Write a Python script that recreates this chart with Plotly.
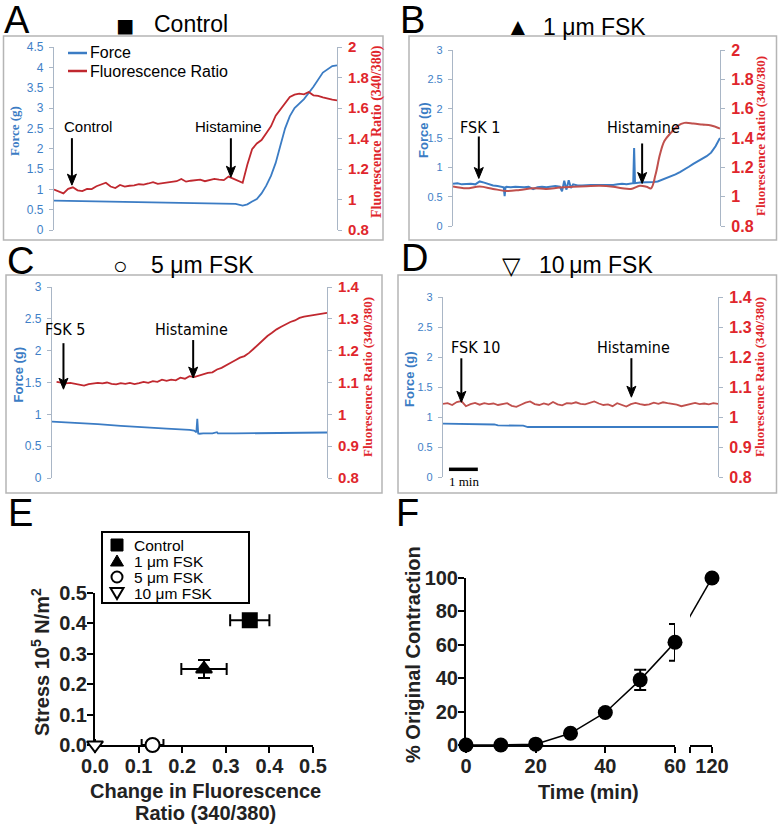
import plotly.graph_objects as go

W, H = 778, 827
def PX(x): return x / W
def PY(y): return 1 - y / H

SANS = "Liberation Sans, Arial, sans-serif"
SERIF = "Liberation Serif, Times New Roman, serif"
NARROW = "Liberation Sans Narrow, Arial Narrow, DejaVu Sans Condensed, sans-serif"

BLUE = "#3b7cc4"
BLUE_TXT = "#3f7fc7"
RED_A = "#c0282f"
RED_B = "#c0504d"
RED_TXT = "#e0262c"
AXGRAY = "#a9b6c6"

# ---------------- DATA ----------------
# Panel A (Control) time in s
a_force_t = [0, 60, 120, 180, 240, 300, 360, 385, 400, 410, 420, 430, 440, 450, 460,
             470, 480, 490, 500, 510, 530, 550, 570, 590, 600]
a_force = [0.72, 0.71, 0.70, 0.685, 0.67, 0.665, 0.655, 0.64, 0.60, 0.63, 0.70, 0.76,
           0.90, 1.09, 1.33, 1.65, 2.08, 2.50, 2.80, 3.00, 3.22, 3.52, 3.87, 4.03, 4.05]
a_fluor_t = list(range(0, 601, 10))
a_fluor = [1.065, 1.050, 1.040, 1.070, 1.080, 1.060, 1.055, 1.070, 1.068, 1.087,
           1.100, 1.110, 1.085, 1.075, 1.095, 1.085, 1.090, 1.092, 1.100, 1.098,
           1.105, 1.114, 1.103, 1.108, 1.110, 1.116, 1.120, 1.135, 1.117, 1.123,
           1.125, 1.130, 1.120, 1.128, 1.135, 1.130, 1.127, 1.150, 1.137, 1.125,
           1.110, 1.230, 1.330, 1.367, 1.390, 1.435, 1.480, 1.550, 1.590, 1.635,
           1.672, 1.688, 1.694, 1.690, 1.705, 1.683, 1.680, 1.670, 1.660, 1.655,
           1.650]
a_legend = ["Force", "Fluorescence Ratio"]

# Panel B (1 um FSK)
b_force_t = [0, 10, 20, 30, 40, 50, 60, 70, 80, 90, 100, 110, 114, 116, 118,
             120, 130, 140, 150, 160, 170, 180, 190, 200, 210, 220, 230, 240,
             245, 250, 255, 260, 265,
             270, 280, 290, 300, 310, 320, 330, 340, 350, 360, 370, 380, 390, 400,
             405, 407, 409,
             420, 430, 440, 450, 460, 470, 480, 490, 500, 510, 520, 530, 540, 550,
             560, 570, 580, 590, 600]
b_force = [0.72, 0.73, 0.71, 0.72, 0.72, 0.71, 0.76, 0.74, 0.71, 0.69, 0.68, 0.67,
           0.66, 0.51, 0.66,
           0.67, 0.66, 0.67, 0.66, 0.66, 0.67, 0.63, 0.66, 0.67, 0.66, 0.67, 0.68, 0.67,
           0.59, 0.77, 0.62, 0.78, 0.65,
           0.71, 0.69, 0.69, 0.70, 0.70, 0.70, 0.70, 0.69, 0.70, 0.70, 0.71, 0.72, 0.71, 0.72,
           0.73, 1.33, 0.73,
           0.74, 0.74, 0.74, 0.75, 0.76, 0.79, 0.81, 0.84, 0.88, 0.92, 0.96, 1.01, 1.06, 1.10,
           1.15, 1.19, 1.25, 1.36, 1.50]
b_fluor_t = [0, 30, 60, 90, 120, 150, 180, 210, 240, 270, 300, 330, 360, 380, 400,
             420, 435, 445, 455, 465, 475, 490, 505, 520, 540, 560, 580, 600]
b_fluor = [1.069, 1.057, 1.069, 1.053, 1.039, 1.046, 1.057, 1.053, 1.062, 1.067,
           1.071, 1.074, 1.067, 1.057, 1.053, 1.074, 1.067, 1.057, 1.149, 1.287,
           1.379, 1.437, 1.483, 1.503, 1.499, 1.492, 1.485, 1.464]

# Panel C (5 um FSK)
c_force_t = [0, 50, 100, 150, 200, 250, 300, 310, 315, 317, 319, 322, 330, 350, 360,
             362, 400, 450, 500, 550, 600]
c_force = [0.887, 0.87, 0.845, 0.82, 0.795, 0.775, 0.757, 0.745, 0.72, 0.93, 0.70,
           0.695, 0.70, 0.70, 0.72, 0.70, 0.70, 0.705, 0.71, 0.715, 0.715]
c_fluor_t = list(range(10, 601, 10))
c_fluor = [1.102, 1.099, 1.097, 1.099, 1.096, 1.094, 1.090, 1.095, 1.097, 1.099,
           1.097, 1.100, 1.096, 1.094, 1.098, 1.096, 1.099, 1.095, 1.098, 1.102,
           1.099, 1.104, 1.102, 1.109, 1.105, 1.109, 1.107, 1.115, 1.112, 1.120,
           1.117, 1.122, 1.125, 1.130, 1.132, 1.141, 1.146, 1.153, 1.162, 1.170,
           1.178, 1.183, 1.193, 1.206, 1.220, 1.233, 1.246, 1.256, 1.267, 1.275,
           1.283, 1.290, 1.295, 1.303, 1.307, 1.309, 1.312, 1.313, 1.317, 1.319]

# Panel D (10 um FSK)
d_force_t = [0, 76, 112, 120, 175, 185, 600]
d_force = [0.889, 0.885, 0.875, 0.86, 0.855, 0.833, 0.833]
d_fluor_t = list(range(0, 601, 10))
d_fluor = [1.044, 1.046, 1.040, 1.050, 1.053, 1.036, 1.043, 1.047, 1.041, 1.046,
           1.043, 1.045, 1.040, 1.044, 1.046, 1.037, 1.034, 1.041, 1.048, 1.052,
           1.043, 1.040, 1.045, 1.041, 1.050, 1.042, 1.039, 1.046, 1.045, 1.049,
           1.044, 1.042, 1.047, 1.052, 1.045, 1.040, 1.042, 1.036, 1.046, 1.041,
           1.035, 1.043, 1.047, 1.043, 1.040, 1.042, 1.048, 1.044, 1.049, 1.046,
           1.044, 1.041, 1.036, 1.039, 1.043, 1.047, 1.043, 1.045, 1.042, 1.046,
           1.044]

# Panel E
e_groups = ["Control", "1 \u03bcm FSK", "5 \u03bcm FSK", "10 \u03bcm FSK"]
e_ratio = [0.355, 0.25, 0.132, 0.0]
e_ratio_err = [0.045, 0.052, 0.025, 0.0]
e_stress = [0.41, 0.25, 0.0, 0.0]
e_stress_err = [0.02, 0.03, 0.0, 0.0]

# Panel F
f_time = [0, 10, 20, 30, 40, 50, 60]
f_pct = [0, 0, 0.5, 7, 19.5, 39, 61.5]
f_err = [0, 0, 0, 0, 0, 6, 11]
f_time_late = [60, 120]
f_pct_late = [61.5, 100]

# ---------------- FIGURE ----------------
fig = go.Figure()

# A
fig.add_trace(go.Scatter(x=a_force_t, y=a_force, xaxis="x", yaxis="y", mode="lines",
                         line=dict(color=BLUE, width=1.8), name=a_legend[0]))
fig.add_trace(go.Scatter(x=a_fluor_t, y=a_fluor, xaxis="x", yaxis="y2", mode="lines",
                         line=dict(color=RED_A, width=1.8), name=a_legend[1]))
# B
fig.add_trace(go.Scatter(x=b_fluor_t, y=b_fluor, xaxis="x2", yaxis="y4", mode="lines",
                         line=dict(color=RED_B, width=2, shape="spline")))
fig.add_trace(go.Scatter(x=b_force_t, y=b_force, xaxis="x2", yaxis="y3", mode="lines",
                         line=dict(color=BLUE, width=2)))
# C
fig.add_trace(go.Scatter(x=c_force_t, y=c_force, xaxis="x3", yaxis="y5", mode="lines",
                         line=dict(color=BLUE, width=1.8)))
fig.add_trace(go.Scatter(x=c_fluor_t, y=c_fluor, xaxis="x3", yaxis="y6", mode="lines",
                         line=dict(color=RED_A, width=1.8)))
# D
fig.add_trace(go.Scatter(x=d_force_t, y=d_force, xaxis="x4", yaxis="y7", mode="lines",
                         line=dict(color=BLUE, width=1.8)))
fig.add_trace(go.Scatter(x=d_fluor_t, y=d_fluor, xaxis="x4", yaxis="y8", mode="lines",
                         line=dict(color=RED_B, width=1.8)))

# E
e_symbols = ["square", "triangle-up", "circle", "triangle-down"]
e_fill = ["black", "black", "white", "white"]
for i in range(4):
    fig.add_trace(go.Scatter(
        x=[e_ratio[i]], y=[e_stress[i]], xaxis="x5", yaxis="y9", mode="markers",
        name=e_groups[i], cliponaxis=False,
        marker=dict(symbol=e_symbols[i], size=14, color=e_fill[i],
                    line=dict(color="black", width=2)),
        error_x=dict(type="data", array=[e_ratio_err[i]], color="black", thickness=2, width=6),
        error_y=dict(type="data", array=[e_stress_err[i]], color="black", thickness=2, width=6),
    ))

# F
fig.add_trace(go.Scatter(x=f_time, y=f_pct, xaxis="x6", yaxis="y10", mode="lines+markers",
                         cliponaxis=False,
                         line=dict(color="black", width=1.5),
                         marker=dict(size=15, color="black"),
                         error_y=dict(type="data", array=f_err, color="black", thickness=2, width=6)))
fig.add_trace(go.Scatter(x=f_time_late, y=f_pct_late, xaxis="x7", yaxis="y10", mode="lines",
                         line=dict(color="black", width=1.5)))
fig.add_trace(go.Scatter(x=f_time_late[1:], y=f_pct_late[1:], xaxis="x7", yaxis="y10", mode="markers",
                         cliponaxis=False, marker=dict(size=15, color="black")))

# ---------------- AXES ----------------
def hidden_x(dom, anchor):
    return dict(domain=dom, range=[0, 600], visible=False, anchor=anchor, automargin=False)

def left_y(dom, rng, dtick, anchor, size):
    return dict(domain=dom, range=rng, dtick=dtick, tick0=0, anchor=anchor, automargin=False,
                showline=True, linecolor=AXGRAY, linewidth=1.2, ticks="outside", ticklen=4,
                tickcolor=AXGRAY, tickwidth=1.2, showgrid=False, zeroline=False,
                ticklabelstandoff=3,
                tickfont=dict(family=SANS, size=size, color=BLUE_TXT))

def right_y(rng, dtick, anchor, over, size):
    return dict(range=rng, dtick=dtick, tick0=0.8, anchor=anchor, overlaying=over, side="right",
                automargin=False,
                showline=True, linecolor=AXGRAY, linewidth=1.2, ticks="outside", ticklen=4,
                tickcolor=AXGRAY, tickwidth=1.2, showgrid=False, zeroline=False,
                ticklabelstandoff=3,
                tickfont=dict(family=SANS, size=size, color=RED_TXT, weight="bold"))

def bold_axis(**kw):
    d = dict(showline=True, linecolor="black", linewidth=2, ticks="outside", ticklen=6,
             tickwidth=2, tickcolor="black", showgrid=False, zeroline=False,
             layer="below traces", automargin=False, ticklabelstandoff=-4,
             tickfont=dict(family=SANS, size=20, color="#222222", weight="bold"))
    d.update(kw)
    return d

layout = dict(
    width=W, height=H, margin=dict(l=0, r=0, t=0, b=0, pad=0, autoexpand=False),
    paper_bgcolor="white", plot_bgcolor="rgba(0,0,0,0)", showlegend=False,
    xaxis=hidden_x([PX(54), PX(337)], "y"),
    yaxis=left_y([PY(230), PY(47)], [0, 4.5], 0.5, "x", 12),
    yaxis2=right_y([0.8, 2], 0.2, "x", "y", 15),
    xaxis2=hidden_x([PX(453), PX(720)], "y3"),
    yaxis3=left_y([PY(226), PY(50)], [0, 3], 0.5, "x2", 11),
    yaxis4=right_y([0.8, 2], 0.2, "x2", "y3", 16),
    xaxis3=hidden_x([PX(52), PX(327)], "y5"),
    yaxis5=left_y([PY(478), PY(287)], [0, 3], 0.5, "x3", 12),
    yaxis6=right_y([0.8, 1.4], 0.1, "x3", "y5", 15),
    xaxis4=hidden_x([PX(443), PX(718)], "y7"),
    yaxis7=left_y([PY(477), PY(297)], [0, 3], 0.5, "x4", 11),
    yaxis8=right_y([0.8, 1.4], 0.1, "x4", "y7", 16),
    xaxis5=bold_axis(domain=[PX(95), PX(313)], range=[0, 0.5], dtick=0.1, tick0=0,
                     tickformat=".1f", anchor="y9"),
    yaxis9=bold_axis(domain=[PY(745), PY(593)], range=[0, 0.5], dtick=0.1, tick0=0,
                     tickformat=".1f", anchor="x5"),
    xaxis6=bold_axis(domain=[PX(466), PX(675)], range=[0, 60], tickvals=[0, 20, 40, 60],
                     anchor="y10"),
    xaxis7=bold_axis(domain=[PX(690), PX(712)], range=[84.32, 120], tickvals=[84.32, 120],
                     ticktext=["", "120"], anchor="y10"),
    yaxis10=bold_axis(domain=[PY(745), PY(578)], range=[0, 100], dtick=20, tick0=0,
                      anchor="x6"),
)
fig.update_layout(**layout)

# ---------------- SHAPES (panel frames, legend keys, arrows, scale bar) ----------------
frames = [(3.5, 36, 383, 240), (409, 36, 776.5, 240), (6, 275, 382, 493), (398, 275, 776.5, 493)]
for (x0, y0, x1, y1) in frames:
    fig.add_shape(type="rect", xref="paper", yref="paper", x0=PX(x0), x1=PX(x1),
                  y0=PY(y1), y1=PY(y0), line=dict(color="#b5b5b5", width=1.5))
# legend keys panel A
for yy, col in [(53, BLUE), (71, RED_A)]:
    fig.add_shape(type="line", xref="paper", yref="paper", x0=PX(68), x1=PX(87),
                  y0=PY(yy), y1=PY(yy), line=dict(color=col, width=2.5))
# legend frame + keys panel E
fig.add_shape(type="rect", xref="paper", yref="paper", x0=PX(102), x1=PX(249),
              y0=PY(603), y1=PY(532), line=dict(color="black", width=2), fillcolor="white",
              layer="above")
E_ROWS = [545, 561, 577, 593]
KX = 117
def ppath(pts):
    return "M " + " L ".join(f"{PX(x)},{PY(y)}" for x, y in pts) + " Z"
fig.add_shape(type="rect", xref="paper", yref="paper", x0=PX(KX - 6), x1=PX(KX + 6),
              y0=PY(E_ROWS[0] + 6), y1=PY(E_ROWS[0] - 6), fillcolor="black",
              line=dict(color="black", width=1), layer="above")
fig.add_shape(type="path", xref="paper", yref="paper", layer="above",
              path=ppath([(KX, E_ROWS[1] - 6), (KX - 6.5, E_ROWS[1] + 5), (KX + 6.5, E_ROWS[1] + 5)]),
              fillcolor="black", line=dict(color="black", width=1))
fig.add_shape(type="circle", xref="paper", yref="paper", x0=PX(KX - 5.5), x1=PX(KX + 5.5),
              y0=PY(E_ROWS[2] + 5.5), y1=PY(E_ROWS[2] - 5.5), fillcolor="white",
              line=dict(color="black", width=2), layer="above")
fig.add_shape(type="path", xref="paper", yref="paper", layer="above",
              path=ppath([(KX - 6.5, E_ROWS[3] - 5), (KX + 6.5, E_ROWS[3] - 5), (KX, E_ROWS[3] + 6)]),
              fillcolor="white", line=dict(color="black", width=2))
# 1 min scale bar (panel D)
fig.add_shape(type="line", xref="x4", yref="y7", x0=13, x1=76, y0=0.128, y1=0.128,
              line=dict(color="black", width=3.5))

# event arrows: vertical shaft + head, sized in pixels, anchored at the tip (data coords)
def ARROW(x, y, length, xref, yref):
    fig.add_shape(type="line", xref=xref, yref=yref, ysizemode="pixel", yanchor=y,
                  x0=x, x1=x, y0=8, y1=length, line=dict(color="black", width=2))
    fig.add_shape(type="path", xref=xref, yref=yref, xsizemode="pixel", ysizemode="pixel",
                  xanchor=x, yanchor=y, path="M 0,0 L -4.5,11 L 0,8.5 L 4.5,11 Z",
                  fillcolor="black", line=dict(color="black", width=1))

ARROW(38, 1.094, 47, "x", "y2")
ARROW(375, 1.146, 39, "x", "y2")
ARROW(58, 1.124, 42, "x2", "y4")
ARROW(425, 1.090, 40, "x2", "y4")
ARROW(25, 1.079, 46, "x3", "y6")
ARROW(308, 1.114, 38, "x3", "y6")
ARROW(40, 1.049, 44, "x4", "y8")
ARROW(411, 1.066, 39, "x4", "y8")

# ---------------- ANNOTATIONS ----------------
anns = []
def T(text, x, y, size, family=SANS, color="black", xref="paper", yref="paper",
      angle=0, weight="normal", xanchor="center", yanchor="middle"):
    anns.append(dict(text=text, x=x, y=y, xref=xref, yref=yref, showarrow=False,
                     textangle=angle, xanchor=xanchor, yanchor=yanchor,
                     font=dict(family=family, size=size, color=color, weight=weight)))

# panel letters
for letter, x, y in [("A", 2, 20), ("B", 398, 20), ("C", 5, 261), ("D", 399, 258),
                     ("E", 6, 513), ("F", 394, 513)]:
    T(letter, PX(x), PY(y), 38, xanchor="left")

# panel titles
T("\u25a0", PX(124.5), PY(25), 30)
T("Control", PX(190.5), PY(24), 23)
T("\u25b2", PX(517.5), PY(27), 24)
T("1 \u03bcm FSK", PX(594), PY(27), 23)
T("\u25cb", PX(120.5), PY(265), 24)
T("5 \u03bcm FSK", PX(202.5), PY(265), 23)
T("\u25bd", PX(511.5), PY(265), 24)
T("10\u2009\u03bcm FSK", PX(595.5), PY(265), 23)

# legend panel A
T(a_legend[0], PX(88), PY(53), 16, xanchor="left")
T(a_legend[1], PX(88), PY(71), 16, xanchor="left")

# legend panel E
for i, yy in enumerate(E_ROWS):
    T(e_groups[i], PX(132), PY(yy + 0.5), 15.5, xanchor="left")

# axis titles A-D
T("Force (g)", PX(15), PY(131), 13, family=SERIF, color=BLUE, angle=-90, weight="bold")
T("Fluorescence Ratio (340/380)", PX(377), PY(132), 14, family=SERIF, color=RED_TXT, angle=-90, weight="bold")
T("Force (g)", PX(423), PY(130), 13, color=BLUE, angle=-90, weight="bold")
T("Fluorescence Ratio (340/380)", PX(761), PY(136), 13, family=SERIF, color=RED_TXT, angle=-90, weight="bold")
T("Force (g)", PX(17.5), PY(375), 13, color=BLUE, angle=-90, weight="bold")
T("Fluorescence Ratio (340/380)", PX(367), PY(377), 13, family=SERIF, color=RED_TXT, angle=-90, weight="bold")
T("Force (g)", PX(409), PY(379), 13, color=BLUE, angle=-90, weight="bold")
T("Fluorescence Ratio (340/380)", PX(759), PY(377), 13, family=SERIF, color=RED_TXT, angle=-90, weight="bold")

# event labels
T("Control", 72, 1.48, 15, xref="x", yref="y2")
T("Histamine", 369, 1.48, 15, xref="x", yref="y2")
T("FSK 1", 61, 1.469, 16, family=NARROW, xref="x2", yref="y4")
T("Histamine", 427, 1.469, 16, family=NARROW, xref="x2", yref="y4")
T("FSK 5", 28, 1.268, 16, family=NARROW, xref="x3", yref="y6")
T("Histamine", 305, 1.268, 16, family=NARROW, xref="x3", yref="y6")
T("FSK 10", 70, 1.232, 16, family=NARROW, xref="x4", yref="y8")
T("Histamine", 415, 1.232, 16, family=NARROW, xref="x4", yref="y8")

T("1 min", 46, PY(482), 13, family=SERIF, xref="x4", yref="paper")

# E / F axis titles
T("Stress 10<sup>5</sup> N/m<sup>2</sup>", PX(40), PY(662), 20, angle=-90, weight="bold", color="#222222")
T("Change in Fluorescence", PX(205), PY(791), 20, weight="bold", color="#222222")
T("Ratio (340/380)", PX(205), PY(813), 20, weight="bold", color="#222222")
T("% Original Contraction", PX(413), PY(655), 20, angle=-90, weight="bold", color="#222222")
T("Time (min)", PX(588), PY(792), 20, weight="bold", color="#222222")

fig.update_layout(annotations=anns)
fig.write_html("out.html", config={"displayModeBar": False},
               post_script="document.body.style.margin='0';document.body.style.padding='0';"
                           "document.body.style.overflow='hidden';")
